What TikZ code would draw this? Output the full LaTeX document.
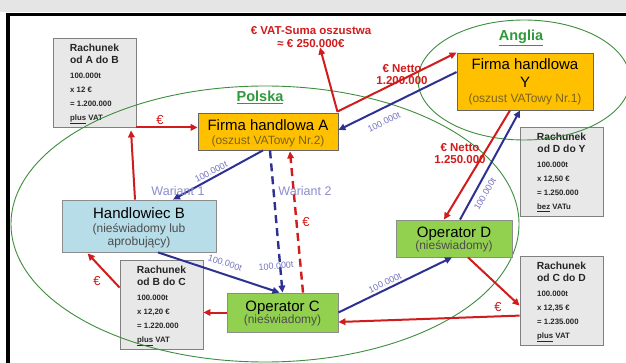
\documentclass[tikz,border=0pt]{standalone}
\usepackage{fontspec}
\setmainfont{Liberation Sans}
\usetikzlibrary{calc,arrows.meta}
\definecolor{myred}{HTML}{D01C1C}
\definecolor{myblue}{HTML}{2E3192}
\definecolor{qtyblue}{HTML}{7474C0}
\definecolor{varblue}{HTML}{8C8CCC}
\definecolor{mygold}{HTML}{FFC000}
\definecolor{subbrown}{HTML}{7A6320}
\definecolor{lblue}{HTML}{B7DDE8}
\definecolor{lgreen}{HTML}{92D050}
\definecolor{egreen}{HTML}{3E8E3E}
\definecolor{tgreen}{HTML}{2E9A3A}
\definecolor{invfill}{HTML}{E8E8E8}
\tikzset{
  arr/.style={line width=2pt,-{Triangle[length=7pt,width=6.5pt]}},
  redarr/.style={arr,draw=myred},
  bluearr/.style={arr,draw=myblue},
  dashline/.style={dash pattern=on 8pt off 5pt,line width=2.4pt},
  box/.style={draw=black!60,line width=0.8pt,inner sep=0pt},
  goldbox/.style={box,fill=mygold},
  bluebox/.style={box,fill=lblue,draw=black!45},
  greenbox/.style={box,fill=lgreen,draw=black!45},
  ttl/.style={font=\fontsize{15}{17}\selectfont,inner sep=0pt,anchor=base},
  subtxt/.style={font=\fontsize{12}{14}\selectfont,inner sep=0pt,anchor=base,text=black!70},
  goldsub/.style={subtxt,text=subbrown},
  invoice/.style={draw=black!50,line width=0.8pt,fill=invfill,minimum width=83pt,minimum height=89pt,inner sep=0pt},
  invhead/.style={font=\fontsize{10.3}{12}\selectfont\bfseries,inner sep=0pt,text=black!85},
  invline/.style={font=\fontsize{7.8}{9}\selectfont\bfseries,inner sep=0pt,anchor=west,text=black!85},
  redlbl/.style={font=\fontsize{11.5}{12.5}\selectfont\bfseries,text=myred,inner sep=0pt,align=center},
  eurolbl/.style={font=\fontsize{13}{14}\selectfont,text=myred,inner sep=0pt},
  qty/.style={font=\fontsize{9}{10}\selectfont,text=qtyblue,inner sep=0pt},
  variant/.style={font=\fontsize{12.5}{14}\selectfont,text=varblue,inner sep=0pt},
  country/.style={font=\fontsize{14.5}{16}\selectfont\bfseries,text=tgreen,inner sep=0pt},
  region/.style={draw=egreen,line width=0.9pt}
}
\newcommand\invbox[9]{%
  \node[invoice] (#1) at ({#2+41.5},{#3+44.5}) {};
  \node[invhead] (#1h1) at ({#2+41.5},{#3+10}) {Rachunek};
  \node[invhead] (#1h2) at ({#2+41.5},{#3+22}) {#4};
  \node[invline] (#1l1) at ({#2+17},{#3+38}) {#5};
  \node[invline] (#1l2) at ({#2+17},{#3+52}) {#6};
  \node[invline] (#1l3) at ({#2+17},{#3+66}) {#7};
  \node[invline] (#1l4) at ({#2+17},{#3+81}) {\underline{#8} #9};
}
\begin{document}
\begin{tikzpicture}[x=1pt,y=-1pt]
\useasboundingbox (0,0) rectangle (626,363);
\fill[white] (0,0) rectangle (626,363);
\fill[black!10] (0,0) rectangle (626,12);
\draw[line width=3.5pt] (8,363) -- (8,14.5) -- (626,14.5);
% invoices
\invbox{ab}{53}{38}{od A do B}{100.000t}{x 12 €}{= 1.200.000}{plus}{VAT}
\invbox{dy}{520}{127}{od D do Y}{100.000t}{x 12,50 €}{= 1.250.000}{bez}{VATu}
\invbox{bc}{120}{260}{od B do C}{100.000t}{x 12,20 €}{= 1.220.000}{plus}{VAT}
\invbox{cd}{520}{256}{od C do D}{100.000t}{x 12,35 €}{= 1.235.000}{plus}{VAT}
% regions
\draw[region] (265,224) ellipse [x radius=254pt, y radius=138pt];
\draw[region] (524,80) ellipse [x radius=106pt, y radius=60pt];
\node[country] (pl) at (260,97) {\underline{Polska}};
\node[country] (en) at (521,38) {\underline{Anglia}};
% main boxes
\node[goldbox,minimum width=140pt,minimum height=37pt] (A) at (268,131.5) {};
\node[ttl] (A1) at ($(A.north)+(0,18)$) {Firma handlowa A};
\node[goldsub] (A2) at ($(A.north)+(0,31.5)$) {(oszust VATowy Nr.2)};
\node[goldbox,minimum width=136pt,minimum height=57pt] (Y) at (525,81.5) {};
\node[ttl] (Y1) at ($(Y.north)+(0,17)$) {Firma handlowa};
\node[ttl] (Y2) at ($(Y.north)+(0,34.5)$) {Y};
\node[goldsub] (Y3) at ($(Y.north)+(0,49.5)$) {(oszust VATowy Nr.1)};
\node[bluebox,minimum width=154pt,minimum height=52pt] (B) at (139,226) {};
\node[ttl] (B1) at ($(B.north)+(0,19)$) {Handlowiec B};
\node[subtxt] (B2) at ($(B.north)+(0,33)$) {(nieświadomy lub};
\node[subtxt] (B3) at ($(B.north)+(0,45.5)$) {aprobujący)};
\node[greenbox,minimum width=111pt,minimum height=39pt] (C) at (282.5,312.5) {};
\node[ttl] (C1) at ($(C.north)+(0,18.7)$) {Operator C};
\node[subtxt] (C2) at ($(C.north)+(0,31)$) {(nieświadomy)};
\node[greenbox,minimum width=116pt,minimum height=37pt] (D) at (454,238.5) {};
\node[ttl] (D1) at ($(D.north)+(0,17.7)$) {Operator D};
\node[subtxt] (D2) at ($(D.north)+(0,30)$) {(nieświadomy)};
% labels
\node[redlbl] (vat) at (311,37) {€ VAT-Suma oszustwa\\≈ € 250.000€};
\node[redlbl] (nt1) at (402,74.5) {€ Netto\\1.200.000};
\node[redlbl] (nt2) at (460,153.5) {€ Netto\\1.250.000};
% red arrows
\draw[redarr] (ab.south east) -- (ab.south east -| A.west);
\draw[redarr] ($(B.north)+(-4,0)$) -- ($(ab.south)+(36.5,3)$);
\draw[redarr] ($(bc.north west)+(0,28)$) -- ($(B.south west)+(26,1)$);
\draw[redarr] (C.west) -- (C.west -| bc.east);
\draw[redarr,dashline] ($(C.north)+(20.5,0)$) -- ($(A.south)+(22,1)$);
\coordinate (corner) at ($(A.north east)+(-1,-1)$);
\draw[redarr] (corner) -- ($(vat.south)+(9,0)$);
\draw[redarr] (corner) -- (Y.north west);
\draw[redarr] ($(Y.south)+(-15,0)$) -- ($(D.north)+(-10,0)$);
\draw[redarr] ($(D.south)+(14,0)$) -- ($(cd.north west)+(0,50)$);
\draw[redarr] ($(cd.north west)+(0,60)$) -- ($(C.east)+(0,9.5)$);
% blue arrows
\draw[bluearr] ($(Y.west)+(0,-9.5)$) -- ($(A.east)+(0,-1.5)$);
\draw[bluearr] ($(A.south)+(-5,0)$) -- ($(B.north)+(34,0)$);
\draw[bluearr,dashline] ($(A.south)+(2,0)$) -- (C.north);
\draw[bluearr] ($(B.south)+(19,0)$) -- ($(C.north)+(-3,0)$);
\draw[bluearr] (C.east) -- ($(D.south)+(-2,0)$);
\draw[bluearr] ($(D.north)+(6,0)$) -- ($(Y.south)+(-5,0)$);
% small labels
\node[eurolbl] (e1) at (160,120) {€};
\node[eurolbl] (e2) at (97,281) {€};
\node[eurolbl] (e3) at (306,222) {€};
\node[eurolbl] (e4) at (498,307) {€};
\node[qty,rotate=26] (q1) at (384,122) {100.000t};
\node[qty,rotate=27] (q2) at (211,172) {100.000t};
\node[qty,rotate=5] (q3) at (276,266) {100.000t};
\node[qty,rotate=-18] (q4) at (225,263) {100.000t};
\node[qty,rotate=25] (q5) at (385,283) {100.000t};
\node[qty,rotate=60] (q6) at (485,194) {100.000t};
\node[variant] (w1) at (178,191) {Wariant 1};
\node[variant] (w2) at (305,191) {Wariant 2};
\end{tikzpicture}
\end{document}
